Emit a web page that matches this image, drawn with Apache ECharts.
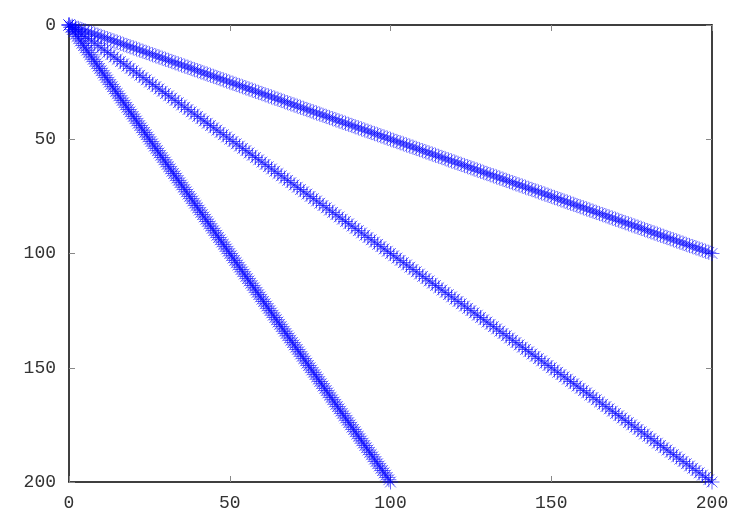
<!DOCTYPE html>
<html>
<head>
<meta charset="utf-8">
<script src="https://cdn.jsdelivr.net/npm/echarts@6/dist/echarts.min.js"></script>
<style>
html,body{margin:0;padding:0;background:#fff;}
#main{width:750px;height:525px;}
</style>
</head>
<body>
<div id="main"></div>
<script>
// point index 0..200
var idx = [0,1,2,3,4,5,6,7,8,9,10,11,12,13,14,15,16,17,18,19,20,21,22,23,24,25,26,27,28,29,30,31,32,33,34,35,36,37,38,39,40,
    41,42,43,44,45,46,47,48,49,50,51,52,53,54,55,56,57,58,59,60,61,62,63,64,65,66,67,68,69,70,71,72,73,74,75,76,77,78,79,80,
    81,82,83,84,85,86,87,88,89,90,91,92,93,94,95,96,97,98,99,100,101,102,103,104,105,106,107,108,109,110,111,112,113,114,115,116,117,118,119,120,
    121,122,123,124,125,126,127,128,129,130,131,132,133,134,135,136,137,138,139,140,141,142,143,144,145,146,147,148,149,150,151,152,153,154,155,156,157,158,159,160,
    161,162,163,164,165,166,167,168,169,170,171,172,173,174,175,176,177,178,179,180,181,182,183,184,185,186,187,188,189,190,191,192,193,194,195,196,197,198,199,200];
// half of each index
var half = [0,0.5,1,1.5,2,2.5,3,3.5,4,4.5,5,5.5,6,6.5,7,7.5,8,8.5,9,9.5,10,10.5,11,11.5,12,12.5,13,13.5,14,14.5,15,15.5,16,16.5,17,17.5,18,18.5,19,19.5,20,
    20.5,21,21.5,22,22.5,23,23.5,24,24.5,25,25.5,26,26.5,27,27.5,28,28.5,29,29.5,30,30.5,31,31.5,32,32.5,33,33.5,34,34.5,35,35.5,36,36.5,37,37.5,38,38.5,39,39.5,40,
    40.5,41,41.5,42,42.5,43,43.5,44,44.5,45,45.5,46,46.5,47,47.5,48,48.5,49,49.5,50,50.5,51,51.5,52,52.5,53,53.5,54,54.5,55,55.5,56,56.5,57,57.5,58,58.5,59,59.5,60,
    60.5,61,61.5,62,62.5,63,63.5,64,64.5,65,65.5,66,66.5,67,67.5,68,68.5,69,69.5,70,70.5,71,71.5,72,72.5,73,73.5,74,74.5,75,75.5,76,76.5,77,77.5,78,78.5,79,79.5,80,
    80.5,81,81.5,82,82.5,83,83.5,84,84.5,85,85.5,86,86.5,87,87.5,88,88.5,89,89.5,90,90.5,91,91.5,92,92.5,93,93.5,94,94.5,95,95.5,96,96.5,97,97.5,98,98.5,99,99.5,100];

function pairs(xs, ys){
    var out = [];
    for(var i=0;i<xs.length;i++){ out.push([xs[i], ys[i]]); }
    return out;
}

var star = 'path://M0,-1L0,1M-1,0L1,0M-0.72,-0.72L0.72,0.72M-0.72,0.72L0.72,-0.72';
var labelFont = {fontFamily:'Liberation Mono', fontSize:18, color:'#333'};

function mkX(pos, show){
    return {
        type:'value', position:pos, min:0, max:200, interval:50,
        axisLine:{show:true, onZero:false, lineStyle:{color:'#000', width:1.5}},
        axisTick:{show:true, inside:true, length:6, lineStyle:{color:'#888'}},
        axisLabel:Object.assign({show:show, margin:12}, labelFont),
        splitLine:{show:false}
    };
}
function mkY(pos, show){
    return {
        type:'value', position:pos, min:0, max:200, interval:50, inverse:true,
        axisLine:{show:true, onZero:false, lineStyle:{color:'#000', width:1.5}},
        axisTick:{show:true, inside:true, length:6, lineStyle:{color:'#888'}},
        axisLabel:Object.assign({show:show, margin:13}, labelFont),
        splitLine:{show:false}
    };
}

function mkSeries(data){
    return {
        type:'scatter', data:data, symbol:star, symbolSize:15,
        itemStyle:{color:'transparent', borderColor:'#0000ff', borderWidth:0.8, opacity:0.75},
        silent:true, animation:false
    };
}

var myChart = echarts.init(document.getElementById('main'));
var option = {
    backgroundColor:'#fff',
    animation:false,
    grid:{left:69, right:38, top:25, bottom:43, containLabel:false},
    xAxis:[mkX('bottom', true), mkX('top', false)],
    yAxis:[mkY('left', true), mkY('right', false)],
    series:[
        mkSeries(pairs(idx, half)),
        mkSeries(pairs(idx, idx)),
        mkSeries(pairs(half, idx))
    ]
};
myChart.setOption(option);
</script>
</body>
</html>
